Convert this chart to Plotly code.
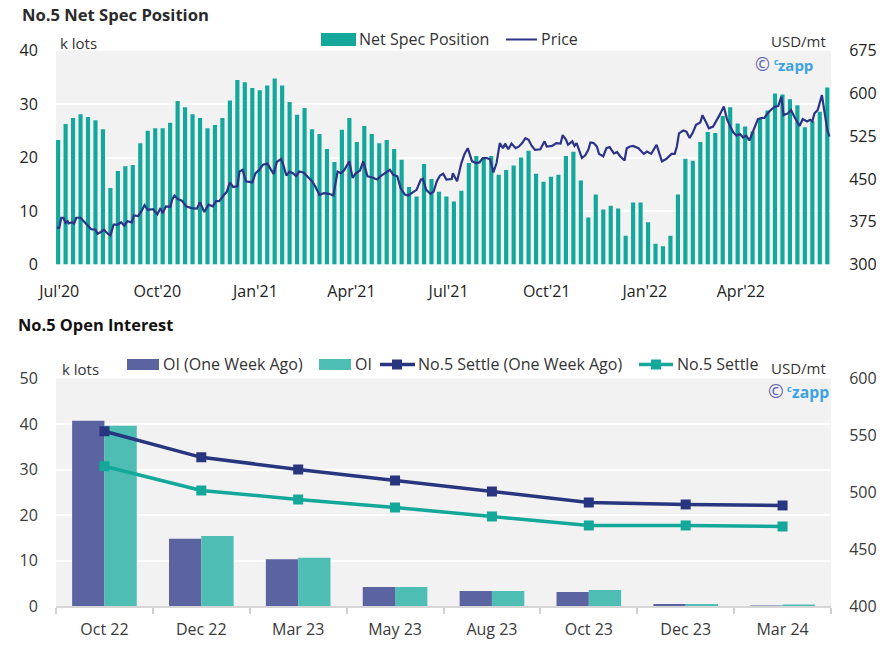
import pandas as pd
import plotly.graph_objects as go
from plotly.subplots import make_subplots

# ---------------- DATA ----------------
spec_start = "2020-06-30"
net_spec = [23.3, 26.3, 27.4, 28.1, 27.6, 27.0, 25.3, 14.3, 17.5, 18.4,
            18.6, 22.7, 25.0, 25.5, 25.5, 26.5, 30.6, 29.4, 28.1, 27.4,
            25.5, 26.1, 27.4, 30.7, 34.5, 34.1, 33.0, 32.6, 33.5, 34.8,
            33.5, 30.4, 28.0, 29.3, 25.3, 24.4, 21.6, 19.2, 25.2, 27.4,
            22.9, 25.9, 24.4, 22.7, 23.3, 21.6, 19.6, 14.5, 12.7, 18.8,
            16.0, 13.6, 12.7, 11.8, 13.8, 19.0, 20.3, 19.8, 20.3, 16.8,
            17.7, 18.5, 20.0, 21.3, 17.0, 15.5, 16.4, 16.8, 20.3, 21.1,
            15.7, 8.8, 13.1, 10.3, 11.0, 10.5, 5.4, 11.6, 11.6, 7.9,
            3.9, 3.4, 5.4, 13.1, 19.8, 19.4, 22.9, 24.8, 24.6, 27.8,
            29.4, 26.4, 25.8, 24.9, 27.3, 28.8, 32.0, 31.8, 30.9, 29.8,
            25.7, 26.8, 28.6, 33.1]

price_dates = [
    "2020-06-29", "2020-07-01", "2020-07-03", "2020-07-05", "2020-07-07", "2020-07-09", "2020-07-10",
    "2020-07-13", "2020-07-15", "2020-07-17", "2020-07-21", "2020-07-24", "2020-07-28", "2020-07-31",
    "2020-08-04", "2020-08-06", "2020-08-09", "2020-08-12", "2020-08-15", "2020-08-18", "2020-08-21",
    "2020-08-25", "2020-08-28", "2020-08-31", "2020-09-03", "2020-09-07", "2020-09-09", "2020-09-13",
    "2020-09-16", "2020-09-19", "2020-09-22", "2020-09-27", "2020-10-01", "2020-10-04", "2020-10-06",
    "2020-10-09", "2020-10-13", "2020-10-15", "2020-10-17", "2020-10-20", "2020-10-24", "2020-10-28",
    "2020-11-02", "2020-11-07", "2020-11-10", "2020-11-14", "2020-11-18", "2020-11-22", "2020-11-25",
    "2020-11-28", "2020-12-02", "2020-12-05", "2020-12-08", "2020-12-11", "2020-12-15", "2020-12-17",
    "2020-12-20", "2020-12-23", "2020-12-29", "2021-01-01", "2021-01-04", "2021-01-08", "2021-01-12",
    "2021-01-15", "2021-01-18", "2021-01-21", "2021-01-25", "2021-01-27", "2021-01-30", "2021-02-02",
    "2021-02-05", "2021-02-08", "2021-02-11", "2021-02-15", "2021-02-18", "2021-02-23", "2021-02-26",
    "2021-03-02", "2021-03-06", "2021-03-11", "2021-03-15", "2021-03-19", "2021-03-22", "2021-03-25",
    "2021-03-30", "2021-04-02", "2021-04-05", "2021-04-09", "2021-04-12", "2021-04-16", "2021-04-20",
    "2021-04-25", "2021-04-28", "2021-05-04", "2021-05-07", "2021-05-10", "2021-05-14", "2021-05-17",
    "2021-05-21", "2021-05-24", "2021-05-28", "2021-06-01", "2021-06-05", "2021-06-07", "2021-06-10",
    "2021-06-14", "2021-06-17", "2021-06-20", "2021-06-23", "2021-06-26", "2021-06-29", "2021-07-04",
    "2021-07-05", "2021-07-09", "2021-07-13", "2021-07-16", "2021-07-19", "2021-07-23", "2021-07-27",
    "2021-07-30", "2021-08-02", "2021-08-06", "2021-08-09", "2021-08-12", "2021-08-15", "2021-08-18",
    "2021-08-21", "2021-08-23", "2021-08-26", "2021-08-29", "2021-09-02", "2021-09-05", "2021-09-08",
    "2021-09-11", "2021-09-14", "2021-09-17", "2021-09-20", "2021-09-25", "2021-09-29", "2021-10-01",
    "2021-10-06", "2021-10-10", "2021-10-14", "2021-10-16", "2021-10-19", "2021-10-21", "2021-10-25",
    "2021-10-27", "2021-10-29", "2021-11-01", "2021-11-03", "2021-11-06", "2021-11-09", "2021-11-11",
    "2021-11-14", "2021-11-17", "2021-11-19", "2021-11-23", "2021-11-26", "2021-11-29", "2021-12-03",
    "2021-12-06", "2021-12-09", "2021-12-13", "2021-12-15", "2021-12-18", "2021-12-21", "2021-12-26",
    "2021-12-31", "2022-01-03", "2022-01-07", "2022-01-12", "2022-01-15", "2022-01-17", "2022-01-21",
    "2022-01-26", "2022-01-29", "2022-01-31", "2022-02-02", "2022-02-06", "2022-02-09", "2022-02-12",
    "2022-02-15", "2022-02-18", "2022-02-22", "2022-02-24", "2022-02-27", "2022-03-02", "2022-03-06",
    "2022-03-09", "2022-03-12", "2022-03-16", "2022-03-19", "2022-03-22", "2022-03-25", "2022-03-28",
    "2022-03-31", "2022-04-03", "2022-04-06", "2022-04-09", "2022-04-14", "2022-04-17", "2022-04-20",
    "2022-04-23", "2022-04-26", "2022-04-29", "2022-05-03", "2022-05-06", "2022-05-09", "2022-05-11",
    "2022-05-15", "2022-05-18", "2022-05-21", "2022-05-26", "2022-05-29", "2022-06-02", "2022-06-05",
    "2022-06-07", "2022-06-09", "2022-06-12", "2022-06-16", "2022-06-18", "2022-06-21", "2022-06-23"]

price_values = [
    365, 364, 382, 382, 373, 376, 372,
    374, 372, 382, 382, 376, 367, 362,
    361, 354, 357, 361, 355, 351, 370,
    370, 374, 368, 376, 374, 386, 385,
    393, 404, 396, 397, 388, 399, 390,
    402, 401, 414, 421, 415, 412, 402,
    399, 398, 409, 392, 405, 402, 411,
    411, 421, 427, 444, 436, 437, 463,
    466, 446, 444, 460, 465, 475, 477,
    469, 459, 480, 485, 475, 456, 463,
    460, 455, 463, 461.5, 456, 446, 437,
    422, 425, 424, 421, 463, 460, 465,
    481, 452, 460, 465, 481, 454.5, 453,
    449, 454.5, 463, 466, 457.5, 454.5, 434,
    422.5, 421, 426.6, 431, 448.7, 450, 431,
    424, 428, 446, 456, 459, 449, 450,
    460, 446, 478, 494, 504, 481, 478,
    479, 486.6, 486.6, 484, 461.5, 478, 513,
    504, 512, 502, 512, 504, 507, 513,
    521.6, 518.7, 508, 501, 502, 516, 507,
    508, 513, 512, 527, 519, 510, 516,
    508, 513, 495, 487, 491, 501, 514,
    513, 507, 494, 489.5, 504, 506, 495,
    497, 489.5, 482.5, 504, 507, 508, 504,
    494, 498, 494, 510, 492.5, 481, 485,
    494, 494, 507, 530, 535, 533, 522,
    531.5, 545, 549, 562, 551, 539, 542,
    551, 562, 577, 555, 542, 531.5, 526,
    529, 523, 526, 517.5, 542, 555, 557,
    557, 565, 571, 577, 578, 594.5, 562,
    565, 571, 559.5, 543, 555, 551, 554,
    551, 565, 571, 597, 571, 536, 524.5]

top_tickvals = ["2020-07-01", "2020-10-01", "2021-01-01", "2021-04-01",
                "2021-07-01", "2021-10-01", "2022-01-01", "2022-04-01"]
top_ticktext = ["Jul'20", "Oct'20", "Jan'21", "Apr'21",
                "Jul'21", "Oct'21", "Jan'22", "Apr'22"]

contracts = ["Oct 22", "Dec 22", "Mar 23", "May 23", "Aug 23", "Oct 23", "Dec 23", "Mar 24"]
oi_week_ago = [40.7, 14.8, 10.3, 4.2, 3.3, 3.1, 0.45, 0.08]
oi_now = [39.6, 15.4, 10.6, 4.2, 3.3, 3.5, 0.45, 0.22]
settle_week_ago = [553.6, 530.7, 520.1, 510.4, 500.7, 491.0, 489.3, 488.4]
settle_now = [522.8, 501.6, 493.7, 486.6, 478.7, 470.8, 470.8, 469.9]

# ---------------- STYLE ----------------
W, H = 890, 658
ML, MR = 56, 59
PW = W - ML - MR
FONT = "Open Sans"
TEAL = "#13a89b"
NAVY = "#2b3486"
OI_WA = "#5b64a0"
OI_NOW = "#4ebdb4"
SET_WA = "#28357f"
SET_NOW = "#13a89a"
BG = "#f2f2f2"
WM_SYM = "#5f62b0"
WM_TXT = "#3ea2e2"


def px(x):
    return (x - ML) / PW


def py(y):
    return (H - y) / H


spec_dates = pd.date_range(spec_start, periods=len(net_spec), freq="7D")

fig = make_subplots(rows=2, cols=1,
                    specs=[[{"secondary_y": True}], [{"secondary_y": True}]])

fig.add_trace(go.Bar(x=spec_dates, y=net_spec, name="Net Spec Position",
                     marker=dict(color=TEAL, line=dict(width=0)),
                     width=3.9 * 86400000, showlegend=False),
              row=1, col=1, secondary_y=False)
fig.add_trace(go.Scatter(x=pd.to_datetime(price_dates), y=price_values, name="Price",
                         mode="lines", line=dict(color=NAVY, width=2.2),
                         showlegend=False),
              row=1, col=1, secondary_y=True)

fig.add_trace(go.Bar(x=contracts, y=oi_week_ago, name="OI (One Week Ago)",
                     marker=dict(color=OI_WA, line=dict(width=0)), showlegend=False),
              row=2, col=1, secondary_y=False)
fig.add_trace(go.Bar(x=contracts, y=oi_now, name="OI",
                     marker=dict(color=OI_NOW, line=dict(width=0)), showlegend=False),
              row=2, col=1, secondary_y=False)
fig.add_trace(go.Scatter(x=contracts, y=settle_week_ago, name="No.5 Settle (One Week Ago)",
                         mode="lines+markers", line=dict(color=SET_WA, width=3.5),
                         marker=dict(symbol="square", size=10, color=SET_WA),
                         showlegend=False),
              row=2, col=1, secondary_y=True)
fig.add_trace(go.Scatter(x=contracts, y=settle_now, name="No.5 Settle",
                         mode="lines+markers", line=dict(color=SET_NOW, width=3.5),
                         marker=dict(symbol="square", size=10, color=SET_NOW),
                         showlegend=False),
              row=2, col=1, secondary_y=True)

top_dom = [py(264.5), py(50.7)]
bot_dom = [py(606), py(378.5)]

tick_font_top = dict(family=FONT, size=16, color="#222")
tick_font_bot = dict(family=FONT, size=16, color="#3a3a3a")

fig.update_layout(
    width=W, height=H,
    margin=dict(l=ML, r=MR, t=0, b=0),
    paper_bgcolor="white", plot_bgcolor=BG,
    barmode="group", bargap=0.333, bargroupgap=0,
    font=dict(family=FONT, size=16, color="#333"),
    showlegend=False,
    xaxis=dict(domain=[0, 1], type="date",
               range=["2020-06-28", "2022-06-24 12:00"],
               tickvals=top_tickvals, ticktext=top_ticktext,
               showgrid=False, zeroline=False, showline=False,
               ticks="outside", ticklen=12, tickcolor="rgba(0,0,0,0)",
               tickfont=tick_font_top, automargin=False),
    yaxis=dict(domain=top_dom, range=[0, 40], dtick=10,
               showgrid=True, gridcolor="white", gridwidth=1.5,
               zeroline=False, showline=False,
               ticks="outside", ticklen=14, tickcolor="rgba(0,0,0,0)",
               tickfont=tick_font_top, automargin=False),
    yaxis2=dict(range=[300, 675], dtick=75, showgrid=False, zeroline=False,
                ticks="outside", ticklen=14, tickcolor="rgba(0,0,0,0)",
                tickfont=tick_font_top, automargin=False),
    xaxis2=dict(domain=[0, 1], type="category", categoryorder="array",
                categoryarray=contracts, range=[-0.5, 7.5],
                showgrid=False, zeroline=False,
                showline=True, linecolor="#d6d6d6", linewidth=1.5,
                ticks="outside", tickson="boundaries", ticklen=6,
                tickcolor="#d0d0d0", tickwidth=1.5, ticklabelstandoff=8,
                tickfont=tick_font_bot, automargin=False),
    yaxis3=dict(domain=bot_dom, range=[0, 50], dtick=10,
                showgrid=True, gridcolor="white", gridwidth=1.5,
                zeroline=False, showline=False,
                ticks="outside", ticklen=14, tickcolor="rgba(0,0,0,0)",
                tickfont=tick_font_bot, automargin=False),
    yaxis4=dict(range=[400, 600], dtick=50, showgrid=False, zeroline=False,
                ticks="outside", ticklen=14, tickcolor="rgba(0,0,0,0)",
                tickfont=tick_font_bot, automargin=False),
)

shapes = []
annos = []


def text(x, y, s, size=16, color="#333", anchor="left", bold=False):
    annos.append(dict(x=px(x), y=py(y), xref="paper", yref="paper", text=s,
                      showarrow=False, xanchor=anchor, yanchor="middle",
                      font=dict(family=FONT, size=size, color=color,
                                weight="bold" if bold else "normal"),
                      borderpad=0))


def rect(x0, y0, x1, y1, color):
    shapes.append(dict(type="rect", xref="paper", yref="paper",
                       x0=px(x0), x1=px(x1), y0=py(y1), y1=py(y0),
                       fillcolor=color, line=dict(width=0), layer="above"))


def hline(x0, x1, y, color, width):
    shapes.append(dict(type="line", xref="paper", yref="paper",
                       x0=px(x0), x1=px(x1), y0=py(y), y1=py(y),
                       line=dict(color=color, width=width), layer="above"))


def watermark(x, y, scale=1.0):
    text(x, y, "©", size=18 * scale, color=WM_SYM)
    text(x + 19 * scale, y - 2.5 * scale, "c", size=8.5 * scale, color=WM_TXT, bold=True)
    text(x + 23.5 * scale, y + 0.5, "zapp", size=15 * scale, color=WM_TXT, bold=True)


# titles
text(21, 14, "No.5 Net Spec Position", size=16.6, color="#2a2a2a", bold=True)
text(17, 324, "No.5 Open Interest", size=16.4, color="#111", bold=True)

# top legend
rect(321, 33, 356, 46, TEAL)
text(358, 39.5, "Net Spec Position", size=16, color="#333")
hline(506, 537, 39.5, NAVY, 2)
text(540, 39.5, "Price", size=16, color="#333")

# top unit labels + watermark
text(59, 43, "k lots", size=15, color="#333")
text(827, 41, "USD/mt", size=15, color="#333", anchor="right")
watermark(753.5, 64)

# bottom legend
rect(127, 359, 159, 370, OI_WA)
text(162, 364.5, "OI (One Week Ago)", size=16, color="#333")
rect(319, 359, 351, 370, OI_NOW)
text(354, 364.5, "OI", size=16, color="#333")
hline(380, 415, 364.5, SET_WA, 3.5)
rect(392, 359.5, 402, 369.5, SET_WA)
text(417, 364.5, "No.5 Settle (One Week Ago)", size=16, color="#333")
hline(639, 673, 364.5, SET_NOW, 3.5)
rect(651, 359.5, 661, 369.5, SET_NOW)
text(676, 364.5, "No.5 Settle", size=16, color="#333")

# bottom unit labels + watermark
text(61, 369.5, "k lots", size=15, color="#333")
text(827, 368, "USD/mt", size=15, color="#333", anchor="right")
watermark(766.5, 391.5, 1.05)

fig.update_layout(shapes=shapes, annotations=annos)

fig.write_html("out.html",
               config={"displayModeBar": False},
               post_script="document.body.style.margin='0px';"
                           "document.body.style.overflow='hidden';")
